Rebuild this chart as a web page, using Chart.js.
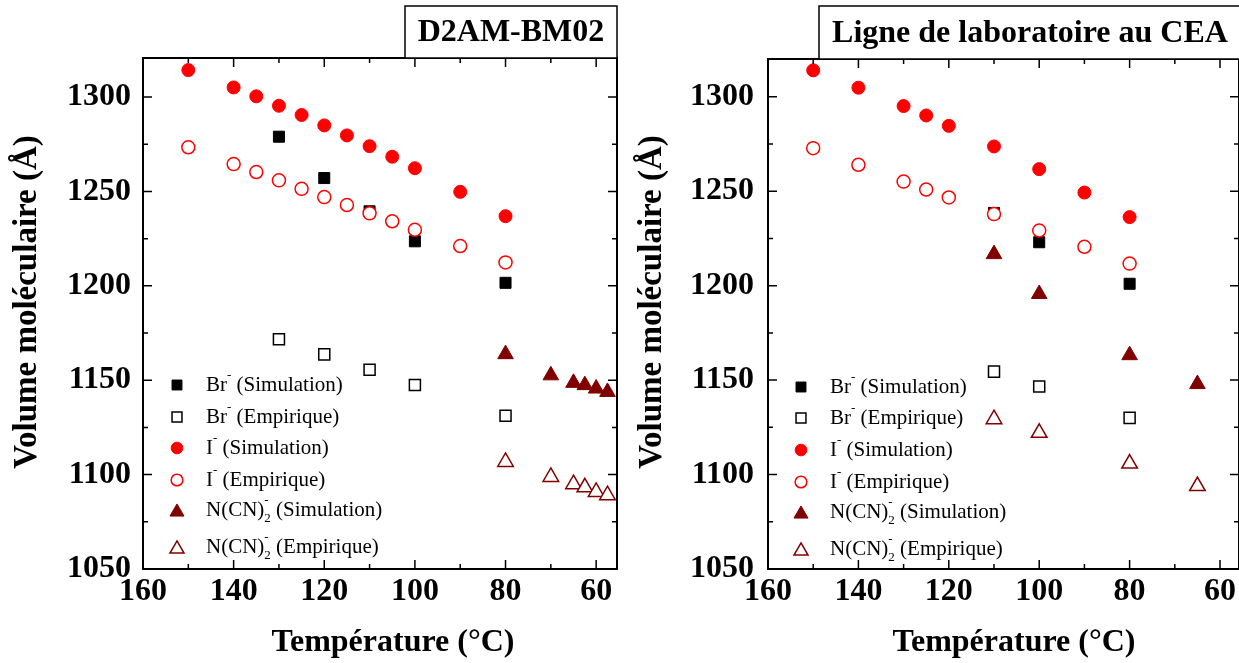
<!DOCTYPE html>
<html lang="fr">
<head>
<meta charset="utf-8">
<title>Volume moléculaire en fonction de la température</title>
<script src="https://cdn.jsdelivr.net/npm/chart.js@4.4.1/dist/chart.umd.min.js"></script>
<style>
  html, body { margin: 0; padding: 0; background: #fff; }
  .panneau { position: absolute; top: 0; height: 663px; }
  #panneau-d2am { left: 0; width: 620px; }
  #panneau-cea { left: 620px; width: 619px; }
</style>
</head>
<body>
<div class="panneau" id="panneau-d2am"><canvas id="chart-d2am"></canvas></div>
<div class="panneau" id="panneau-cea"><canvas id="chart-cea"></canvas></div>
<script>
'use strict';

// --- Données (Température en °C, volume en Å³) ---

// D2AM-BM02
const tempI_D2AM = [150, 140, 135, 130, 125, 120, 115, 110, 105, 100, 90, 80];
const iSim_D2AM = [1314.3, 1305.1, 1300.4, 1295.4, 1290.5, 1285.0, 1279.7, 1274.0, 1268.4, 1262.3, 1249.8, 1236.9];
const iEmp_D2AM = [1273.4, 1264.5, 1260.3, 1255.9, 1251.4, 1247.0, 1242.8, 1238.4, 1234.2, 1229.7, 1221.1, 1212.4];
const tempBr_D2AM = [130, 120, 110, 100, 80];
const brSim_D2AM = [1279.0, 1257.1, 1239.5, 1223.6, 1201.6];
const brEmp_D2AM = [1171.7, 1163.7, 1155.6, 1147.5, 1131.2];
const tempN_D2AM = [80, 70, 65, 62.5, 60, 57.5];
const nSim_D2AM = [1163.8, 1152.6, 1148.6, 1147.4, 1145.6, 1143.8];
const nEmp_D2AM = [1106.7, 1098.8, 1094.9, 1093.3, 1090.8, 1089.1];

// Ligne de laboratoire au CEA
const tempI_CEA = [150, 140, 130, 125, 120, 110, 100, 90, 80];
const iSim_CEA = [1314.0, 1304.8, 1295.1, 1290.1, 1284.6, 1273.7, 1261.7, 1249.3, 1236.3];
const iEmp_CEA = [1272.8, 1264.0, 1255.1, 1250.9, 1246.7, 1237.9, 1229.2, 1220.6, 1211.7];
const tempBr_CEA = [110, 100, 80];
const brSim_CEA = [1238.5, 1223.0, 1201.0];
const brEmp_CEA = [1154.5, 1146.6, 1130.0];
const tempN_CEA = [110, 100, 80, 65];
const nSim_CEA = [1216.7, 1195.6, 1163.2, 1147.9];
const nEmp_CEA = [1129.3, 1122.1, 1105.8, 1093.9];

const ETIQUETTES = [
    'Br⁻ (Simulation)', 'Br⁻ (Empirique)',
    'I⁻ (Simulation)', 'I⁻ (Empirique)',
    'N(CN)₂⁻ (Simulation)', 'N(CN)₂⁻ (Empirique)',
];

const X_TICKS = [60, 80, 100, 120, 140, 160];
const X_MINEURS = [70, 90, 110, 130, 150];
const Y_TICKS = [1050, 1100, 1150, 1200, 1250, 1300];
const Y_MINEURS = [1075, 1125, 1175, 1225, 1275];

const TITRE_X = 'Température (°C)';
const TITRE_Y = 'Volume moléculaire (Å)';

// --- Style ---
const ROUGE = '#ff0000';
const BORDEAUX = '#800000';
const NOIR = '#000000';
const SERIF = "'Liberation Serif', 'Times New Roman', serif";

const MARQUES = [
    { pointStyle: 'rect', couleur: NOIR, plein: true, rayon: 7.8 },
    { pointStyle: 'rect', couleur: NOIR, plein: false, rayon: 7.8 },
    { pointStyle: 'circle', couleur: ROUGE, plein: true, rayon: 6.5 },
    { pointStyle: 'circle', couleur: ROUGE, plein: false, rayon: 6.5 },
    { pointStyle: 'triangle', couleur: BORDEAUX, plein: true, rayon: 9 },
    { pointStyle: 'triangle', couleur: BORDEAUX, plein: false, rayon: 9 },
];

const serie = (temps, valeurs, i) => {
    const m = MARQUES[i];
    return {
        label: ETIQUETTES[i],
        data: temps.map((t, k) => ({ x: t, y: valeurs[k] })),
        pointStyle: m.pointStyle,
        pointRadius: m.rayon,
        pointHoverRadius: m.rayon,
        pointBackgroundColor: m.plein ? m.couleur : '#ffffff',
        pointBorderColor: m.couleur,
        pointBorderWidth: m.plein ? 1 : 1.5,
        showLine: false,
        order: 6 - i,
    };
};

// texte avec exposant "⁻" et indice "₂" empilés comme dans la figure
const ecrireRiche = (ctx, texte, x, y) => {
    let cx = x;
    let xScript = null;
    ctx.textBaseline = 'middle';
    ctx.textAlign = 'left';
    for (const ch of texte) {
        if (ch === '⁻' || ch === '₂') {
            const haut = ch === '⁻';
            const c = haut ? '-' : '2';
            ctx.font = `13px ${SERIF}`;
            const sx = xScript ?? cx;
            ctx.fillText(c, sx, y + (haut ? -9 : 9));
            cx = Math.max(cx, sx + ctx.measureText(c).width);
            xScript = sx;
        } else {
            xScript = null;
            ctx.font = `21px ${SERIF}`;
            ctx.fillText(ch, cx, y);
            cx += ctx.measureText(ch).width;
        }
    }
};

const cadrePlugin = {
    id: 'cadre',
    afterDatasetsDraw(chart, args, opts) {
        const { ctx, chartArea: a, scales: { x, y } } = chart;
        ctx.save();

        // graduations vers l'intérieur, sur les quatre côtés
        ctx.strokeStyle = NOIR;
        ctx.lineWidth = 1.5;
        ctx.beginPath();
        const gradX = (v, l) => {
            const px = x.getPixelForValue(v);
            if (px < a.left || px > a.right) return;
            ctx.moveTo(px, a.bottom); ctx.lineTo(px, a.bottom - l);
            ctx.moveTo(px, a.top); ctx.lineTo(px, a.top + l);
        };
        const gradY = (v, l) => {
            const py = y.getPixelForValue(v);
            ctx.moveTo(a.left, py); ctx.lineTo(a.left + l, py);
            ctx.moveTo(a.right, py); ctx.lineTo(a.right - l, py);
        };
        X_TICKS.forEach((v) => gradX(v, 9));
        X_MINEURS.forEach((v) => gradX(v, 5));
        Y_TICKS.forEach((v) => gradY(v, 9));
        Y_MINEURS.forEach((v) => gradY(v, 5));
        ctx.stroke();

        ctx.lineWidth = 2;
        ctx.strokeRect(a.left, a.top, a.right - a.left, a.bottom - a.top);

        // titres des axes
        ctx.fillStyle = NOIR;
        ctx.textAlign = 'center';
        ctx.textBaseline = 'alphabetic';
        ctx.font = `bold 32px ${SERIF}`;
        ctx.fillText(TITRE_X, opts.titreAxeX.x, opts.titreAxeX.y);
        ctx.save();
        ctx.translate(opts.titreAxeY.x, opts.titreAxeY.y);
        ctx.rotate(-Math.PI / 2);
        ctx.font = `bold 33px ${SERIF}`;
        ctx.fillText(TITRE_Y, 0, 0);
        ctx.restore();

        // boîte du titre
        const [bx0, by0, bx1, by1] = opts.boite;
        ctx.fillStyle = '#ffffff';
        ctx.fillRect(bx0, by0, bx1 - bx0, by1 - by0);
        ctx.lineWidth = 1.5;
        ctx.strokeRect(bx0, by0, bx1 - bx0, by1 - by0);
        ctx.fillStyle = NOIR;
        ctx.font = `bold 32px ${SERIF}`;
        ctx.textAlign = 'center';
        ctx.textBaseline = 'middle';
        ctx.fillText(opts.titre, opts.titreX, (by0 + by1) / 2 + 1);

        // légende dans le graphique
        const { xMarque, xTexte, lignes } = opts.legende;
        chart.data.datasets.forEach((ds, i) => {
            const m = MARQUES[i];
            const ly = lignes[i];
            const r = m.rayon * 0.9;
            ctx.fillStyle = m.plein ? m.couleur : '#ffffff';
            ctx.strokeStyle = m.couleur;
            ctx.lineWidth = m.plein ? 1 : 1.5;
            const dy = m.pointStyle === 'triangle' ? r / 4 : 0;
            Chart.helpers.drawPoint(ctx, {
                pointStyle: m.pointStyle, radius: r, rotation: 0, borderWidth: ctx.lineWidth,
            }, xMarque, ly + dy);
            ctx.fillStyle = NOIR;
            ecrireRiche(ctx, ds.label, xTexte, ly);
        });

        ctx.restore();
    },
};

const policeAxe = { family: SERIF, size: 32, weight: 'bold' };

const echelles = (xMin, yMax, padY) => ({
    x: {
        type: 'linear',
        reverse: true,
        min: xMin,
        max: 160,
        afterBuildTicks: (s) => { s.ticks = X_TICKS.map((v) => ({ value: v })); },
        afterFit: (s) => {
            s.height = 94;
            s.paddingLeft = 0;
            s.paddingRight = 0;
        },
        grid: { display: false, drawTicks: false },
        border: { display: false },
        ticks: {
            color: NOIR, font: policeAxe, padding: 4, maxRotation: 0, autoSkip: false,
            callback: (v) => String(v),
        },
    },
    y: {
        type: 'linear',
        min: 1050,
        max: yMax,
        afterBuildTicks: (s) => { s.ticks = Y_TICKS.map((v) => ({ value: v })); },
        afterFit: (s) => {
            s.width = padY.largeur;
            s.paddingTop = 0;
            s.paddingBottom = 0;
        },
        grid: { display: false, drawTicks: false },
        border: { display: false },
        ticks: {
            color: NOIR, font: policeAxe, padding: padY.ticks, autoSkip: false,
            callback: (v) => String(v),
        },
    },
});

const creerGraphique = (id, datasets, config) => new Chart(document.getElementById(id), {
    type: 'scatter',
    data: { datasets },
    options: {
        responsive: true,
        maintainAspectRatio: false,
        animation: false,
        events: [],
        layout: { autoPadding: false, padding: config.padding },
        scales: echelles(config.xMin, config.yMax, config.padY),
        plugins: {
            legend: { display: false },
            tooltip: { enabled: false },
            cadre: config.cadre,
        },
    },
    plugins: [cadrePlugin],
});

creerGraphique('chart-d2am', [
    serie(tempBr_D2AM, brSim_D2AM, 0),
    serie(tempBr_D2AM, brEmp_D2AM, 1),
    serie(tempI_D2AM, iSim_D2AM, 2),
    serie(tempI_D2AM, iEmp_D2AM, 3),
    serie(tempN_D2AM, nSim_D2AM, 4),
    serie(tempN_D2AM, nEmp_D2AM, 5),
], {
    padding: { top: 58, right: 3, left: 0, bottom: 0 },
    xMin: 55.4,
    yMax: 1320.7,
    padY: { largeur: 143, ticks: 12 },
    cadre: {
        titre: 'D2AM-BM02',
        titreX: 511,
        boite: [405, 6, 617, 58],
        titreAxeX: { x: 393, y: 651 },
        titreAxeY: { x: 36, y: 302 },
        legende: { xMarque: 177, xTexte: 206, lignes: [385, 417, 448, 480, 510, 547] },
    },
});

creerGraphique('chart-cea', [
    serie(tempBr_CEA, brSim_CEA, 0),
    serie(tempBr_CEA, brEmp_CEA, 1),
    serie(tempI_CEA, iSim_CEA, 2),
    serie(tempI_CEA, iEmp_CEA, 3),
    serie(tempN_CEA, nSim_CEA, 4),
    serie(tempN_CEA, nEmp_CEA, 5),
], {
    padding: { top: 59, right: 0, left: 0, bottom: 0 },
    xMin: 55.8,
    yMax: 1320,
    padY: { largeur: 148, ticks: 14 },
    cadre: {
        titre: 'Ligne de laboratoire au CEA',
        titreX: 410,
        boite: [199, 6, 625, 59],
        titreAxeX: { x: 394, y: 651 },
        titreAxeY: { x: 41, y: 302 },
        legende: { xMarque: 181, xTexte: 210, lignes: [387, 418, 450, 482, 512, 549] },
    },
});
</script>
</body>
</html>
